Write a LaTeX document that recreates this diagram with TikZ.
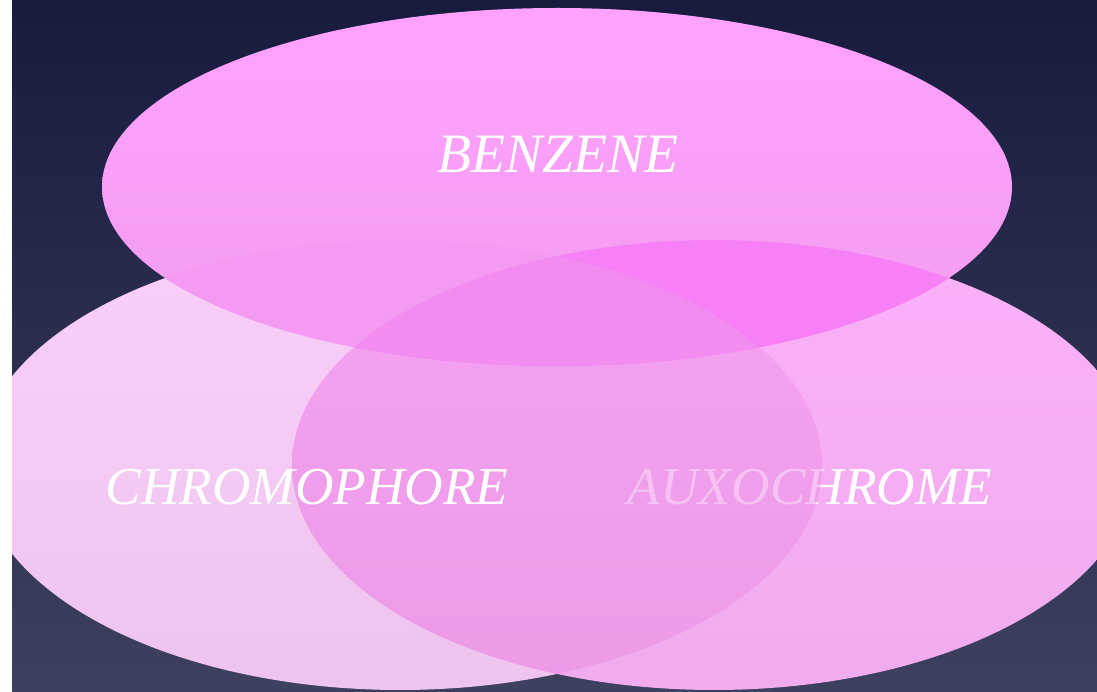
\documentclass[tikz,border=0pt]{standalone}
\usepackage{fontspec}
\setmainfont{Liberation Serif}
\definecolor{bgtop}{RGB}{24,27,62}
\definecolor{bgbot}{RGB}{62,64,96}
\definecolor{ttop}{RGB}{255,162,255}
\definecolor{tbot}{RGB}{242,156,238}
\definecolor{ltop}{RGB}{250,206,250}
\definecolor{lbot}{RGB}{238,196,238}
\definecolor{rtop}{RGB}{251,176,251}
\definecolor{rbot}{RGB}{240,172,238}
\definecolor{lrtop}{RGB}{245,162,242}
\definecolor{lrbot}{RGB}{236,154,230}
\definecolor{tlcol}{RGB}{245,154,243}
\definecolor{trcol}{RGB}{247,128,246}
\definecolor{tlrcol}{RGB}{243,140,240}
\tikzset{
  lbl/.style={text=white, anchor=base, inner sep=0pt, font=\fontsize{45.5}{54}\selectfont\itshape},
}
\def\Tell{(557,505) ellipse [x radius=455, y radius=179]}
\def\Lell{(400,227) ellipse [x radius=422, y radius=225]}
\def\Rell{(714,227) ellipse [x radius=422, y radius=225]}
\begin{document}
\begin{tikzpicture}[x=0.3mm,y=0.3mm]
\useasboundingbox (0,0) rectangle (1097,692);
\fill[white] (0,0) rectangle (12,692);
\shade[top color=bgtop, bottom color=bgbot] (12,0) rectangle (1097,692);
\begin{scope}
  \clip (12,0) rectangle (1097,692);
  % left and right ellipses
  \begin{scope}
    \clip \Lell;
    \shade[top color=ltop, bottom color=lbot] (-30,0) rectangle (830,460);
  \end{scope}
  \begin{scope}
    \clip \Rell;
    \shade[top color=rtop, bottom color=rbot] (290,0) rectangle (1140,460);
  \end{scope}
  \begin{scope}
    \clip \Lell;
    \clip \Rell;
    \shade[top color=lrtop, bottom color=lrbot] (280,0) rectangle (830,460);
  \end{scope}
  % labels of the lower ellipses
  \node[lbl] (chromo) at (307,187) {CHROMOPHORE};
  \node[lbl] (auxo) at (810,187) {AUXOCHROME};
  \begin{scope}
    \clip \Lell;
    \clip \Rell;
    \clip (560,0) rectangle (900,692);
    \fill[lrtop!50!lrbot, opacity=0.62] (560,150) rectangle (830,240);
  \end{scope}
  % top ellipse
  \begin{scope}
    \clip \Tell;
    \shade[top color=ttop, bottom color=tbot] (100,326) rectangle (1014,684);
  \end{scope}
  \begin{scope}
    \clip \Tell;
    \clip \Lell;
    \fill[tlcol] (0,300) rectangle (830,460);
  \end{scope}
  \begin{scope}
    \clip \Tell;
    \clip \Rell;
    \fill[trcol] (280,300) rectangle (1100,460);
  \end{scope}
  \begin{scope}
    \clip \Tell;
    \clip \Lell;
    \clip \Rell;
    \fill[tlrcol] (280,300) rectangle (830,460);
  \end{scope}
  \node[lbl, font=\fontsize{47.5}{56}\selectfont\itshape] (benzene) at (558,519) {BENZENE};
\end{scope}
\end{tikzpicture}
\end{document}
